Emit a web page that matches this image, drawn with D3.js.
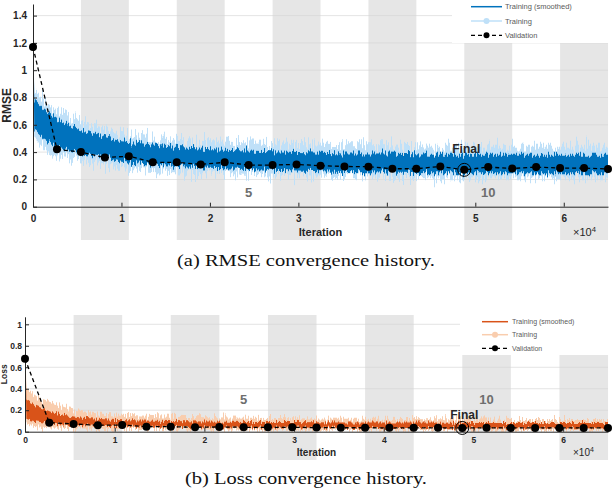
<!DOCTYPE html>
<html>
<head>
<meta charset="utf-8">
<script src="https://cdn.jsdelivr.net/npm/d3@7"></script>
<style>
body { margin: 0; background: #fff; }
svg { display: block; }
</style>
</head>
<body>
<svg id="fig" width="613" height="495"></svg>
<script>
// ---- shared iteration axis ----
var epochCount = 12, itersPerEpoch = 5417, lastIter = 65000;
var shadedEpochs = [2, 4, 6, 8, 10, 12];
var labelledEpochs = [5, 10];
var xTickVals = [0, 10000, 20000, 30000, 40000, 50000, 60000];
var xTickText = ["0", "1", "2", "3", "4", "5", "6"];
var finalIter = 48750;
var valIter = [0, 2708, 5417, 8125, 10833, 13542, 16250, 18958, 21667, 24375, 27083, 29792,
  32500, 35208, 37917, 40625, 43333, 46042, 48750, 51458, 54167, 56875, 59583, 62292, 65000];
var trainIter = [0, 150, 500, 1300, 3000, 4700, 6400, 8100, 10000, 13000, 16000, 20000,
  25000, 30000, 35000, 40000, 45000, 50000, 55000, 60000, 65000];

// ---- RMSE panel ----
var rmseTicks = [0, 0.2, 0.4, 0.6, 0.8, 1, 1.2, 1.4];
var rmseTickText = ["0", "0.2", "0.4", "0.6", "0.8", "1", "1.2", "1.4"];
var rmseSmoothHi = [1.46, 0.78, 0.76, 0.71, 0.63, 0.58, 0.55, 0.51, 0.48, 0.46, 0.44, 0.42, 0.41, 0.40, 0.39, 0.39, 0.38, 0.38, 0.38, 0.38, 0.38];
var rmseSmoothLo = [1.38, 0.56, 0.54, 0.49, 0.43, 0.40, 0.38, 0.365, 0.33, 0.31, 0.30, 0.285, 0.275, 0.265, 0.255, 0.25, 0.245, 0.245, 0.245, 0.245, 0.245];
var rmseRawHi = [1.46, 0.84, 0.82, 0.77, 0.70, 0.64, 0.60, 0.57, 0.54, 0.51, 0.49, 0.48, 0.47, 0.46, 0.45, 0.45, 0.44, 0.44, 0.44, 0.44, 0.44];
var rmseRawLo = [1.36, 0.50, 0.48, 0.42, 0.36, 0.34, 0.32, 0.30, 0.29, 0.27, 0.26, 0.25, 0.24, 0.23, 0.225, 0.22, 0.215, 0.215, 0.215, 0.215, 0.215];
var rmseVal = [1.17, 0.42, 0.40, 0.36, 0.37, 0.325, 0.325, 0.31, 0.325, 0.305, 0.305, 0.31,
  0.30, 0.295, 0.293, 0.278, 0.278, 0.295, 0.27, 0.29, 0.28, 0.29, 0.283, 0.283, 0.276];

// ---- Loss panel ----
var lossTicks = [0, 0.2, 0.4, 0.6, 0.8, 1];
var lossTickText = ["0", "0.2", "0.4", "0.6", "0.8", "1"];
var lossSmoothHi = [1.0, 0.30, 0.28, 0.24, 0.18, 0.15, 0.13, 0.12, 0.11, 0.105, 0.10, 0.095, 0.09, 0.09, 0.085, 0.085, 0.085, 0.08, 0.08, 0.08, 0.08];
var lossSmoothLo = [0.96, 0.12, 0.11, 0.095, 0.075, 0.065, 0.06, 0.055, 0.05, 0.048, 0.045, 0.042, 0.04, 0.038, 0.036, 0.035, 0.034, 0.033, 0.032, 0.032, 0.032];
var lossRawHi = [1.02, 0.40, 0.38, 0.33, 0.27, 0.22, 0.19, 0.17, 0.16, 0.15, 0.14, 0.135, 0.13, 0.125, 0.12, 0.12, 0.115, 0.115, 0.11, 0.11, 0.11];
var lossRawLo = [0.95, 0.07, 0.06, 0.05, 0.04, 0.035, 0.03, 0.028, 0.026, 0.024, 0.022, 0.02, 0.02, 0.018, 0.018, 0.017, 0.016, 0.016, 0.016, 0.016, 0.016];
var lossVal = [0.68, 0.084, 0.072, 0.06, 0.062, 0.047, 0.047, 0.041, 0.044, 0.041, 0.041, 0.041,
  0.038, 0.037, 0.037, 0.036, 0.036, 0.036, 0.035, 0.036, 0.035, 0.035, 0.035, 0.035, 0.035];

var legendText = ["Training (smoothed)", "Training", "Validation"];

var svg = d3.select("#fig");
var defs = svg.append("defs");
var axisFont = "'Liberation Sans', Arial, sans-serif";
var ink = "#262626";

// texture so the dense per-iteration curves look noisy
function noiseFilter(id, scale, seed) {
  var f = defs.append("filter").attr("id", id)
    .attr("x", "-2%").attr("y", "-20%").attr("width", "104%").attr("height", "140%")
    .attr("color-interpolation-filters", "sRGB");
  f.append("feTurbulence").attr("type", "fractalNoise").attr("baseFrequency", "0.9 0.004")
    .attr("numOctaves", 2).attr("seed", seed).attr("result", "n");
  f.append("feColorMatrix").attr("in", "n").attr("type", "matrix")
    .attr("values", "1 0 0 0 0  0 0 0 0 0.5  0 0 0 0 0  0 0 0 0 1").attr("result", "m");
  f.append("feDisplacementMap").attr("in", "SourceGraphic").attr("in2", "m")
    .attr("scale", scale).attr("xChannelSelector", "G").attr("yChannelSelector", "R");
}

function panel(o) {
  var g = svg.append("g");
  var x = d3.scaleLinear().domain([0, lastIter]).range([o.left, o.right]);
  var y = d3.scaleLinear().domain([0, o.yMax]).range([o.bottom, o.top]);

  // epoch shading
  g.selectAll("rect.band").data(shadedEpochs).join("rect").attr("class", "band")
    .attr("x", function(d) { return x((d - 1) * itersPerEpoch); })
    .attr("width", function(d) { return x(d * itersPerEpoch) - x((d - 1) * itersPerEpoch); })
    .attr("y", o.bandTop).attr("height", o.bandBottom - o.bandTop)
    .attr("fill", "#e6e6e6");

  // grid
  g.selectAll("line.grid").data(o.yTicks.slice(1)).join("line").attr("class", "grid")
    .attr("x1", o.left).attr("x2", o.right)
    .attr("y1", function(d) { return y(d); }).attr("y2", function(d) { return y(d); })
    .attr("stroke", "#d4d4d4").attr("stroke-width", 0.8).attr("opacity", 0.8);

  // legend box sits over shading and grid
  var L = o.legend;
  g.append("rect").attr("x", L.x).attr("y", L.y).attr("width", L.w).attr("height", L.h).attr("fill", "#fff");

  // epoch numbers
  g.selectAll("text.ep").data(labelledEpochs).join("text").attr("class", "ep")
    .attr("x", function(d) { return x((d - 0.5) * itersPerEpoch); })
    .attr("y", o.epochY).attr("text-anchor", "middle")
    .attr("font-family", axisFont).attr("font-weight", "bold").attr("font-size", o.epochFont)
    .attr("fill", "#6e6e6e").text(function(d) { return d; });

  var clipId = "clip" + o.id;
  defs.append("clipPath").attr("id", clipId).append("rect")
    .attr("x", o.left).attr("y", o.top - 6).attr("width", o.right - o.left + 2).attr("height", o.bottom - o.top + 6);
  noiseFilter("raw" + o.id, o.rawScale, 7);
  noiseFilter("sm" + o.id, o.smoothScale, 3);

  var data = trainIter.map(function(it, i) {
    return { it: it, rh: o.rawHi[i], rl: o.rawLo[i], sh: o.smHi[i], sl: o.smLo[i] };
  });
  var cg = g.append("g").attr("clip-path", "url(#" + clipId + ")");
  cg.append("path").datum(data).attr("filter", "url(#raw" + o.id + ")")
    .attr("fill", o.rawColor)
    .attr("d", d3.area().x(function(d) { return x(d.it); })
      .y0(function(d) { return y(d.rl); }).y1(function(d) { return y(d.rh); }));
  cg.append("path").datum(data).attr("filter", "url(#sm" + o.id + ")")
    .attr("fill", o.smColor)
    .attr("d", d3.area().x(function(d) { return x(d.it); })
      .y0(function(d) { return y(d.sl); }).y1(function(d) { return y(d.sh); }));

  // axes
  var ax = g.append("g").attr("transform", "translate(0," + o.bottom + ")")
    .call(d3.axisBottom(x).tickValues(xTickVals).tickFormat(function(d, i) { return xTickText[i]; })
      .tickSizeInner(-4).tickSizeOuter(0).tickPadding(o.padX));
  var ay = g.append("g").attr("transform", "translate(" + o.left + ",0)")
    .call(d3.axisLeft(y).tickValues(o.yTicks).tickFormat(function(d, i) { return o.yTickText[i]; })
      .tickSizeInner(-4).tickSizeOuter(0).tickPadding(o.padY));
  [ax, ay].forEach(function(a) {
    a.attr("font-family", axisFont).attr("font-size", o.tickFont).attr("font-weight", "bold");
    a.selectAll("path, line").attr("stroke", ink);
    a.selectAll("text").attr("fill", ink);
  });

  // validation
  var vd = valIter.map(function(it, i) { return { it: it, v: o.val[i] }; });
  g.append("path").datum(vd).attr("fill", "none").attr("stroke", "#000")
    .attr("stroke-width", 1.3).attr("stroke-dasharray", "4,3")
    .attr("d", d3.line().x(function(d) { return x(d.it); }).y(function(d) { return y(d.v); }));
  var fin = vd[valIter.indexOf(finalIter)];
  g.append("circle").attr("cx", x(fin.it)).attr("cy", y(fin.v)).attr("r", 6.5)
    .attr("fill", "none").attr("stroke", "#000").attr("stroke-width", 1);
  g.selectAll("circle.val").data(vd).join("circle").attr("class", "val")
    .attr("cx", function(d) { return x(d.it); }).attr("cy", function(d) { return y(d.v); })
    .attr("r", 4).attr("fill", "#000");
  g.append("text").attr("x", x(fin.it) + 2).attr("y", o.finalY).attr("text-anchor", "middle")
    .attr("font-family", axisFont).attr("font-weight", "bold").attr("font-size", 12)
    .attr("fill", ink).text("Final");

  // axis labels
  g.append("text").attr("transform", "translate(" + o.yLabelX + "," + ((o.top + o.bottom) / 2) + ") rotate(-90)")
    .attr("text-anchor", "middle").attr("font-family", axisFont).attr("font-weight", "bold")
    .attr("font-size", o.yLabelFont).attr("fill", ink).text(o.yLabel);
  g.append("text").attr("x", (o.left + o.right) / 2).attr("y", o.xLabelY).attr("text-anchor", "middle")
    .attr("font-family", axisFont).attr("font-weight", "bold").attr("font-size", o.xLabelFont)
    .attr("fill", ink).text("Iteration");
  var ex = g.append("text").attr("x", 573).attr("y", o.xLabelY).attr("font-family", axisFont)
    .attr("font-size", o.xLabelFont).attr("fill", ink);
  ex.append("tspan").text("\u00d710");
  ex.append("tspan").attr("dy", -4).attr("font-size", o.xLabelFont * 0.7).text("4");

  // legend entries
  var rows = g.selectAll("g.leg").data(legendText).join("g").attr("class", "leg")
    .attr("transform", function(d, i) { return "translate(0," + L.rows[i] + ")"; });
  rows.append("line").attr("x1", L.lx1).attr("x2", L.lx2)
    .attr("stroke", function(d, i) { return [o.smColor, o.rawColor, "#000"][i]; })
    .attr("stroke-width", function(d, i) { return i === 2 ? 1.3 : 1.5; })
    .attr("stroke-dasharray", function(d, i) { return i === 2 ? "4,3" : null; });
  rows.filter(function(d, i) { return i > 0; }).append("circle")
    .attr("cx", (L.lx1 + L.lx2) / 2).attr("r", 3)
    .attr("fill", function(d, i) { return i === 0 ? o.rawColor : "#000"; });
  rows.append("text").attr("x", L.tx).attr("dy", "0.35em")
    .attr("font-family", axisFont).attr("font-size", L.font).attr("fill", "#5a5a5a")
    .text(function(d) { return d; });

  // caption
  svg.append("text").attr("x", 306).attr("y", o.captionY).attr("text-anchor", "middle")
    .attr("font-family", "'Liberation Serif', 'Times New Roman', serif").attr("font-size", 17)
    .attr("fill", "#111").attr("textLength", o.captionW).attr("lengthAdjust", "spacingAndGlyphs")
    .text(o.caption);
}

panel({
  id: "a", left: 33, right: 608, top: 4, bottom: 206.7, yMax: 1.485,
  bandTop: 0, bandBottom: 240,
  yTicks: rmseTicks, yTickText: rmseTickText,
  rawHi: rmseRawHi, rawLo: rmseRawLo, smHi: rmseSmoothHi, smLo: rmseSmoothLo, val: rmseVal,
  smColor: "#0072bd", rawColor: "#bfe0f8", rawScale: 30, smoothScale: 14,
  tickFont: 10, padX: 7.8, padY: 6,
  yLabel: "RMSE", yLabelX: 11, yLabelFont: 12, xLabelY: 236, xLabelFont: 11,
  epochY: 197, epochFont: 13, finalY: 153,
  legend: { x: 452, y: 0, w: 161, h: 43, lx1: 471, lx2: 502, tx: 505, rows: [6.7, 21, 35.3], font: 7.5 },
  caption: "(a) RMSE convergence history.", captionY: 266, captionW: 258
});

panel({
  id: "b", left: 25, right: 608, top: 316.8, bottom: 431.7, yMax: 1.07,
  bandTop: 315, bandBottom: 460,
  yTicks: lossTicks, yTickText: lossTickText,
  rawHi: lossRawHi, rawLo: lossRawLo, smHi: lossSmoothHi, smLo: lossSmoothLo, val: lossVal,
  smColor: "#d95319", rawColor: "#f9cdae", rawScale: 16, smoothScale: 8,
  tickFont: 8.5, padX: 5.3, padY: 3,
  yLabel: "Loss", yLabelX: 7, yLabelFont: 8.5, xLabelY: 456, xLabelFont: 10,
  epochY: 404, epochFont: 13, finalY: 419,
  legend: { x: 460, y: 313, w: 153, h: 42, lx1: 482, lx2: 508, tx: 512, rows: [321.7, 334.7, 348.3], font: 7 },
  caption: "(b) Loss convergence history.", captionY: 484, captionW: 242
});
</script>
</body>
</html>
